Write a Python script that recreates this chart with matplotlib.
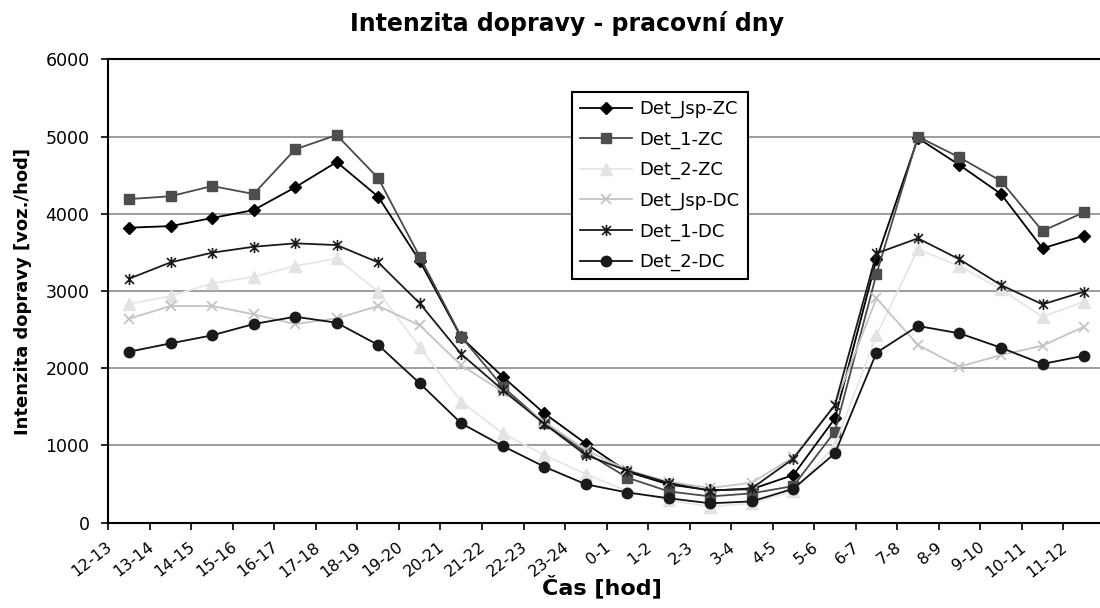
import matplotlib
matplotlib.use("Agg")
import matplotlib.pyplot as plt
from matplotlib.path import Path
from matplotlib.transforms import ScaledTranslation
import numpy as np

plt.rcParams['font.family'] = ['DejaVu Sans']

categories = ["12-13", "13-14", "14-15", "15-16", "16-17", "17-18", "18-19", "19-20",
              "20-21", "21-22", "22-23", "23-24", "0-1", "1-2", "2-3", "3-4", "4-5",
              "5-6", "6-7", "7-8", "8-9", "9-10", "10-11", "11-12"]

det_jsp_zc = [3820, 3840, 3945, 4048, 4342, 4670, 4221, 3390, 2400, 1890, 1416, 1025,
              660, 495, 420, 435, 618, 1350, 3410, 4980, 4631, 4256, 3552, 3716]
det_1_zc = [4190, 4227, 4359, 4256, 4834, 5019, 4462, 3444, 2408, 1761, 1287, 910,
            583, 405, 340, 380, 475, 1180, 3220, 4998, 4730, 4424, 3777, 4019]
det_2_zc = [2831, 2935, 3099, 3185, 3323, 3423, 2991, 2271, 1567, 1157, 876, 630,
            410, 294, 207, 251, 410, 1000, 2430, 3540, 3323, 3022, 2667, 2861]
det_jsp_dc = [2641, 2806, 2806, 2698, 2572, 2646, 2806, 2555, 2038, 1696, 1308, 941,
              682, 530, 450, 518, 850, 1530, 2905, 2301, 2020, 2171, 2292, 2538]
det_1_dc = [3159, 3371, 3496, 3573, 3617, 3595, 3371, 2840, 2184, 1718, 1280, 876,
            673, 514, 414, 445, 830, 1524, 3487, 3682, 3410, 3077, 2827, 2991]
det_2_dc = [2214, 2322, 2426, 2572, 2667, 2589, 2301, 1805, 1287, 993, 725, 497,
            391, 316, 251, 276, 440, 898, 2201, 2547, 2452, 2266, 2055, 2162]

series_names = ["Det_Jsp-ZC", "Det_1-ZC", "Det_2-ZC", "Det_Jsp-DC", "Det_1-DC", "Det_2-DC"]

# Excel-style asterisk marker: an x with a vertical bar
star_path = Path([(-1, -1), (1, 1), (-1, 1), (1, -1), (0, -1.25), (0, 1.25)],
                 [Path.MOVETO, Path.LINETO, Path.MOVETO, Path.LINETO, Path.MOVETO, Path.LINETO])

fig = plt.figure(figsize=(11, 6.08), dpi=100)
ax = fig.add_axes([108.3 / 1100, 1 - 522.7 / 608, 996.5 / 1100, 463.4 / 608])

x = np.arange(len(categories))

styles = [
    dict(color="#000000", marker="D", ms=6.5, mfc="#000000", mec="#000000", lw=1.3),
    dict(color="#4a4a4a", marker="s", ms=7, mfc="#4d4d4d", mec="#4d4d4d", lw=1.3),
    dict(color="#e6e6e6", marker="^", ms=8, mfc="#e3e3e3", mec="#e3e3e3", lw=1.3),
    dict(color="#c4c4c4", marker="x", ms=6.5, mfc="#c4c4c4", mec="#c4c4c4", mew=1.3, lw=1.3),
    dict(color="#1a1a1a", marker=star_path, ms=8, mfc="none", mec="#1a1a1a", mew=1.2, lw=1.3),
    dict(color="#111111", marker="o", ms=7.5, mfc="#1a1a1a", mec="#1a1a1a", lw=1.3),
]
data = [det_jsp_zc, det_1_zc, det_2_zc, det_jsp_dc, det_1_dc, det_2_dc]

for name, vals, st in zip(series_names, data, styles):
    ax.plot(x, vals, label=name, zorder=3, **st)

ax.set_xlim(-0.5, len(categories) - 0.5)
ax.set_ylim(0, 6000)
ax.set_yticks(np.arange(0, 6001, 1000))
ax.yaxis.grid(True, color="#8c8c8c", lw=1.2)
ax.set_axisbelow(True)

for side in ["left", "bottom", "top"]:
    ax.spines[side].set_color("black")
    ax.spines[side].set_linewidth(1.5)
ax.spines["right"].set_visible(False)

ax.tick_params(axis="y", direction="out", length=5, width=1.2, pad=8.5, labelsize=12.5)

ax.set_xticks(x)
ax.set_xticklabels(categories, rotation=38, ha="right", va="top", fontsize=11.5)
ax.set_xticks(np.arange(-0.5, len(categories), 1.0), minor=True)
ax.tick_params(axis="x", which="major", length=0, pad=12)
ax.tick_params(axis="x", which="minor", direction="out", length=5, width=1.2)
offset = ScaledTranslation(-14 / 100, 0, fig.dpi_scale_trans)
for lab in ax.get_xticklabels():
    lab.set_transform(lab.get_transform() + offset)

ax.set_ylabel("Intenzita dopravy [voz./hod]", fontsize=13, fontweight="bold")
ax.yaxis.set_label_coords(-0.0768, 0.5)
ax.set_xlabel("Čas [hod]", fontsize=16, fontweight="bold")
ax.xaxis.set_label_coords(0.495, -0.113)

fig.text(567 / 1100, 1 - 30.7 / 608, "Intenzita dopravy - pracovní dny",
         ha="center", va="baseline", fontsize=17, fontweight="bold")

leg = ax.legend(loc="upper left", bbox_to_anchor=(572 / 1100, 1 - 92 / 608),
                bbox_transform=fig.transFigure, borderaxespad=0, fancybox=False,
                framealpha=1, edgecolor="black", fontsize=13, handlelength=2.9,
                handletextpad=0.4, labelspacing=0.68, borderpad=0.45)
leg.get_frame().set_linewidth(1.5)

fig.savefig("out.png", dpi=100)
